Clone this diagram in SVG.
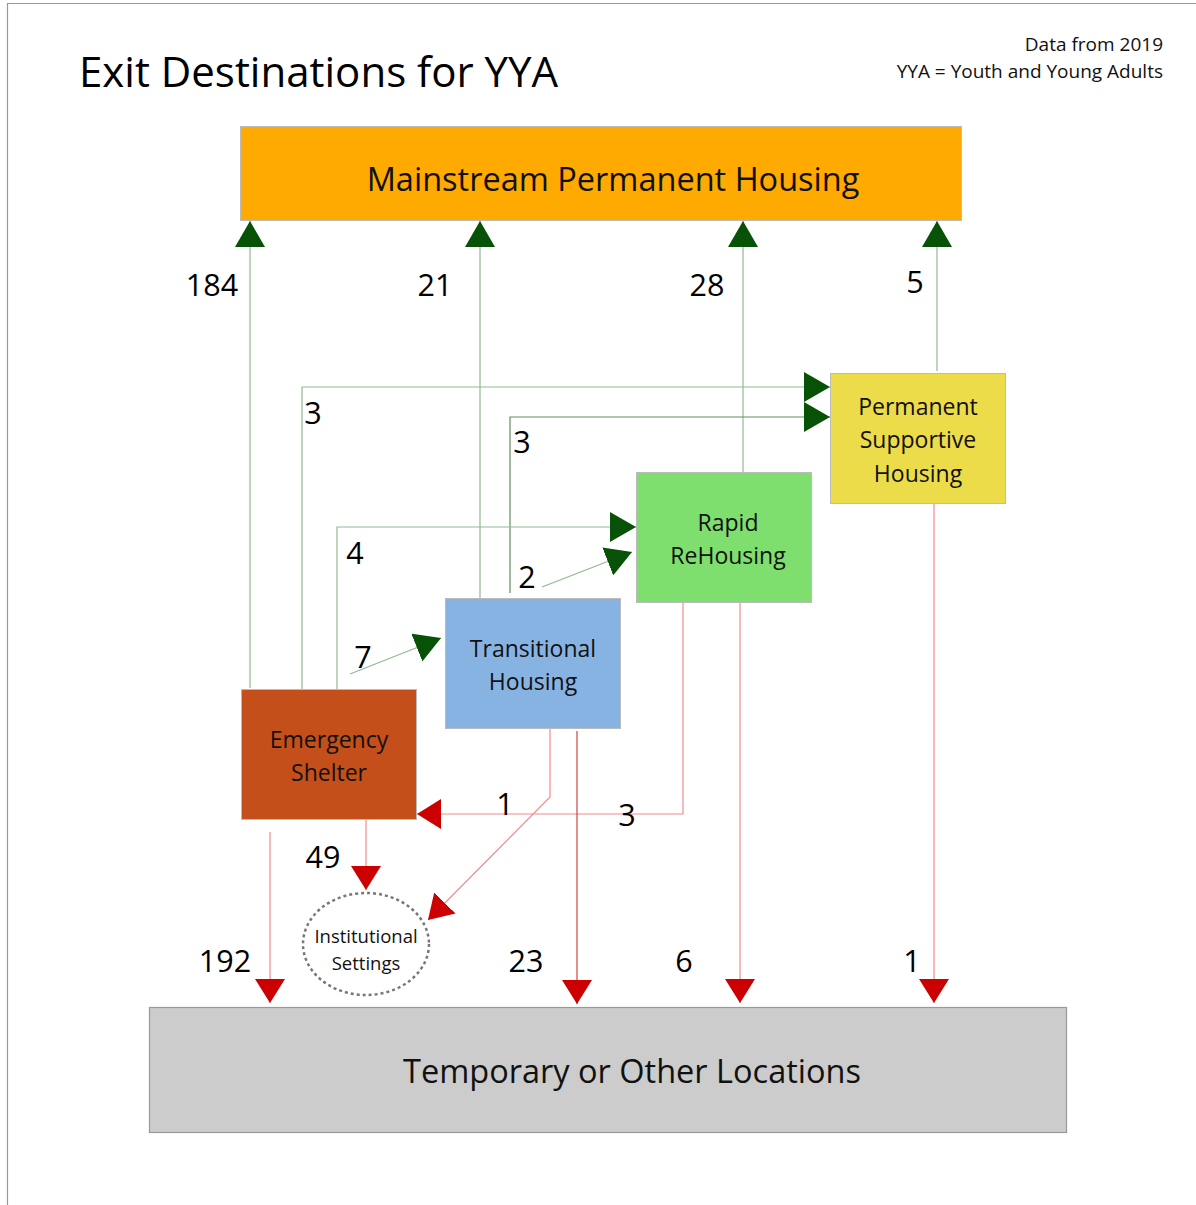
<svg xmlns="http://www.w3.org/2000/svg" width="1196" height="1205" viewBox="0 0 1196 1205">
<defs>
<style>
text{font-family:"Open Sans","Noto Sans","DejaVu Sans",sans-serif;fill:#111}
.t{font-size:42px;fill:#000}
.big{font-size:32.5px;text-anchor:middle}
.box{font-size:23px;text-anchor:middle}
.sm{font-size:18.5px}
.hd{font-size:19px}
.num{font-size:30.5px;text-anchor:middle;fill:#000}
.gl{fill:none;stroke:#93B893;stroke-width:1.2}
.gd{fill:none;stroke:#5F8F5F;stroke-width:1.2}
.rl{fill:none;stroke:#F08C8C;stroke-width:1.2}
.rd{fill:none;stroke:#D04040;stroke-width:1.2}
.g{marker-end:url(#ga)}
.r{marker-end:url(#ra)}
.node{stroke:#BBBBBB;stroke-width:1}
</style>
<marker id="ga" markerUnits="userSpaceOnUse" markerWidth="27" markerHeight="30" refX="26" refY="15" orient="auto" viewBox="0 0 27 30">
<path d="M0,0 L26,15 L0,30 Z" fill="#075207"/>
</marker>
<marker id="ra" markerUnits="userSpaceOnUse" markerWidth="25" markerHeight="30" refX="24" refY="15" orient="auto" viewBox="0 0 25 30">
<path d="M0,0 L24,15 L0,30 Z" fill="#CC0000"/>
</marker>
</defs>
<rect x="0" y="0" width="1196" height="1205" fill="#FFFFFF"/>
<path d="M7.5,1205 V3.5 H1196" fill="none" stroke="#999" stroke-width="1.2"/>
<g id="title">
<text class="t" x="79" y="87">Exit Destinations for YYA</text>
<text class="hd" x="1163" y="51" text-anchor="end">Data from 2019</text>
<text class="hd" x="1163" y="78" text-anchor="end">YYA = Youth and Young Adults</text>
</g>
<g id="connectors">
<path class="gl g" d="M250,688 V221"/>
<path class="gl g" d="M480,598 V221"/>
<path class="gl g" d="M743,472 V221"/>
<path class="gl g" d="M937,371 V221"/>
<path class="gl g" d="M302,690 V387 H830"/>
<path class="gd g" d="M510,593 V417 H830"/>
<path class="gl g" d="M337,689 V527 H636"/>
<path class="gl g" d="M542,587 L632,552"/>
<path class="gl g" d="M350,674 L441,638"/>
<path class="rl r" d="M270,832 V1003"/>
<path class="rl r" d="M366,820 V890"/>
<path class="rl r" d="M550,729 V797 L428,920"/>
<path class="rl r" d="M683,602 V814 H417"/>
<path class="rd r" d="M577,731 V1004"/>
<path class="rl r" d="M740,602 V1003"/>
<path class="rl r" d="M934,503 V1003"/>
</g>
<g id="labels">
<text class="num" x="212" y="296">184</text>
<text class="num" x="435" y="296">21</text>
<text class="num" x="707" y="296">28</text>
<text class="num" x="915" y="293">5</text>
<text class="num" x="313" y="424">3</text>
<text class="num" x="522" y="453">3</text>
<text class="num" x="355" y="564">4</text>
<text class="num" x="527" y="588">2</text>
<text class="num" x="363" y="668">7</text>
<text class="num" x="505" y="815">1</text>
<text class="num" x="627" y="826">3</text>
<text class="num" x="323" y="868">49</text>
<text class="num" x="225" y="972">192</text>
<text class="num" x="526" y="972">23</text>
<text class="num" x="684" y="972">6</text>
<text class="num" x="912" y="972">1</text>
</g>
<g id="mainstream">
<rect class="node" x="240.5" y="126.5" width="721" height="94" fill="#FFAA00"/>
<text class="big" x="613" y="191">Mainstream Permanent Housing</text>
</g>
<g id="psh">
<rect class="node" x="830.5" y="373.5" width="175" height="130" fill="#ECDC4A"/>
<text class="box" x="918" y="415">Permanent</text>
<text class="box" x="918" y="448">Supportive</text>
<text class="box" x="918" y="482">Housing</text>
</g>
<g id="rrh">
<rect class="node" x="636.5" y="472.5" width="175" height="130" fill="#7EDE6E"/>
<text class="box" x="728" y="531">Rapid</text>
<text class="box" x="728" y="564">ReHousing</text>
</g>
<g id="th">
<rect class="node" x="445.5" y="598.5" width="175" height="130" fill="#87B3E3"/>
<text class="box" x="533" y="657">Transitional</text>
<text class="box" x="533" y="690">Housing</text>
</g>
<g id="es">
<rect class="node" x="241.5" y="689.5" width="175" height="130" fill="#C44F1A"/>
<text class="box" x="329" y="748">Emergency</text>
<text class="box" x="329" y="781">Shelter</text>
</g>
<g id="institutional">
<ellipse cx="366" cy="944" rx="63" ry="51" fill="#FFFFFF" stroke="#777" stroke-width="2.5" stroke-dasharray="3 3"/>
<text class="sm" x="366" y="943" text-anchor="middle">Institutional</text>
<text class="sm" x="366" y="970" text-anchor="middle">Settings</text>
</g>
<g id="temporary">
<rect x="149.5" y="1007.5" width="917" height="125" fill="#CCCCCC" stroke="#999" stroke-width="1.2"/>
<text class="big" x="632" y="1083">Temporary or Other Locations</text>
</g>
</svg>
